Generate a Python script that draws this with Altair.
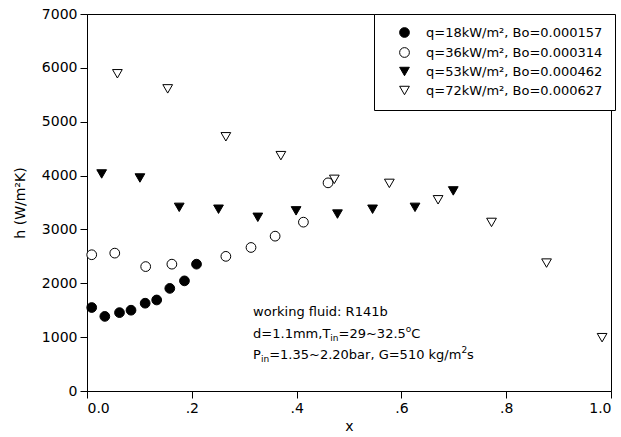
import altair as alt
import pandas as pd

# ---- data ----
labels = [
    "q=18kW/m\u00b2, Bo=0.000157",
    "q=36kW/m\u00b2, Bo=0.000314",
    "q=53kW/m\u00b2, Bo=0.000462",
    "q=72kW/m\u00b2, Bo=0.000627",
]
x18 = [0.009, 0.034, 0.062, 0.084, 0.111, 0.133, 0.158, 0.186, 0.209]
h18 = [1550, 1385, 1455, 1500, 1630, 1690, 1905, 2045, 2355]
x36 = [0.009, 0.053, 0.112, 0.162, 0.265, 0.313, 0.359, 0.413, 0.460]
h36 = [2530, 2560, 2310, 2355, 2500, 2665, 2875, 3135, 3865]
x53 = [0.028, 0.101, 0.176, 0.251, 0.326, 0.399, 0.478, 0.545, 0.626, 0.699]
h53 = [4030, 3955, 3410, 3375, 3225, 3345, 3285, 3375, 3410, 3715]
x72 = [0.058, 0.154, 0.265, 0.370, 0.472, 0.577, 0.670, 0.772, 0.877, 0.983]
h72 = [5890, 5610, 4720, 4370, 3930, 3855, 3550, 3130, 2375, 990]

shapes = ["circle", "circle", "triangle-down", "triangle-down"]
fills = ["black", "white", "black", "white"]
strokes = ["black", "black", "black", "black"]

PLOT_W, PLOT_H = 524, 377
X_MAX, H_MAX = 1.0, 7000

rows = []
for lab, xs, hs in zip(labels, [x18, x36, x53, x72], [h18, h36, h53, h72]):
    for a, b in zip(xs, hs):
        rows.append({"series": lab, "x": a, "h": b})
df = pd.DataFrame(rows)

# ---- annotation text (with sub/superscripts as separate pieces) ----
FONT = "DejaVu Sans"
W = {' ': .318, ',': .318, '.': .318, '/': .337, ':': .337, '=': .838, '~': .838,
     'C': .698, 'G': .775, 'P': .603, 'R': .695, 'T': .611, 'a': .613, 'b': .635,
     'd': .635, 'f': .352, 'g': .635, 'i': .278, 'k': .579, 'l': .278, 'm': .974,
     'n': .634, 'o': .612, 'r': .411, 's': .521, 'u': .634, 'w': .818}


def tw(s, fs):
    return sum(W.get(c, .636) for c in s) * fs


ann_x = 0.317
ann_lines = [
    (1463, [("working fluid: R141b", 0)]),
    (1054, [("d=1.1mm,T", 0), ("in", 1), ("=29~32.5", 0), ("o", -1), ("C", 0)]),
    (664, [("P", 0), ("in", 1), ("=1.35~2.20bar, G=510 kg/m", 0), ("2", -1), ("s", 0)]),
]
BIG, SMALL = 13, 9
arows = []
for yv, pieces in ann_lines:
    off = 0.0
    for txt, kind in pieces:
        fs = BIG if kind == 0 else SMALL
        dy = 0 if kind == 0 else (4 if kind == 1 else -5)
        arows.append({"x": ann_x + off / PLOT_W * X_MAX,
                      "h": yv - dy / PLOT_H * H_MAX,
                      "t": txt, "fs": fs})
        off += tw(txt, fs)
adf = pd.DataFrame(arows)

xlabel_expr = ("datum.value == 0 || datum.value == 1 ? format(datum.value, '.1f') "
               ": substring(format(datum.value, '.1f'), 1)")

xscale = alt.Scale(domain=[0, X_MAX], nice=False, zero=False)
yscale = alt.Scale(domain=[0, H_MAX], nice=False)

leg = alt.Legend(title=None, orient="none", legendX=287, legendY=0)

points = alt.Chart(df).mark_point(
    filled=True, strokeWidth=1, size=95, opacity=1
).encode(
    x=alt.X("x:Q", scale=xscale, title="x",
            axis=alt.Axis(values=[0, 0.2, 0.4, 0.6, 0.8, 1.0], labelExpr=xlabel_expr,
                          titlePadding=4)),
    y=alt.Y("h:Q", scale=yscale, title="h (W/m\u00b2K)",
            axis=alt.Axis(values=[0, 1000, 2000, 3000, 4000, 5000, 6000, 7000],
                          format="d", titlePadding=14)),
    shape=alt.Shape("series:N", scale=alt.Scale(domain=labels, range=shapes), legend=leg),
    fill=alt.Fill("series:N", scale=alt.Scale(domain=labels, range=fills), legend=leg),
    stroke=alt.Stroke("series:N", scale=alt.Scale(domain=labels, range=strokes), legend=leg),
)

ann = alt.Chart(adf).mark_text(
    align="left", baseline="middle", font=FONT, color="black"
).encode(
    x=alt.X("x:Q", scale=xscale),
    y=alt.Y("h:Q", scale=yscale),
    size=alt.Size("fs:Q", scale=None, legend=None),
    text="t:N",
)

chart = alt.layer(points, ann).properties(
    width=PLOT_W, height=PLOT_H,
    autosize=alt.AutoSizeParams(type="none"),
    padding={"left": 87, "top": 14, "right": 10, "bottom": 46},
    background="white",
).configure_view(
    stroke="black", strokeWidth=1, fill="white"
).configure_axis(
    grid=False, domainColor="black", tickColor="black", labelColor="black",
    titleColor="black", labelFont=FONT, titleFont=FONT, labelFontSize=14,
    titleFontSize=14, titleFontWeight="normal", tickSize=7, labelPadding=3,
    domainWidth=1, tickWidth=1,
).configure_legend(
    strokeColor="black", fillColor="white", padding=12, symbolOffset=12,
    labelOffset=15, rowPadding=5, labelFont=FONT, labelFontSize=13,
    labelColor="black", symbolSize=95, symbolStrokeWidth=1, labelLimit=400,
)

chart.save("out.html", embed_options={"renderer": "svg", "actions": False})
